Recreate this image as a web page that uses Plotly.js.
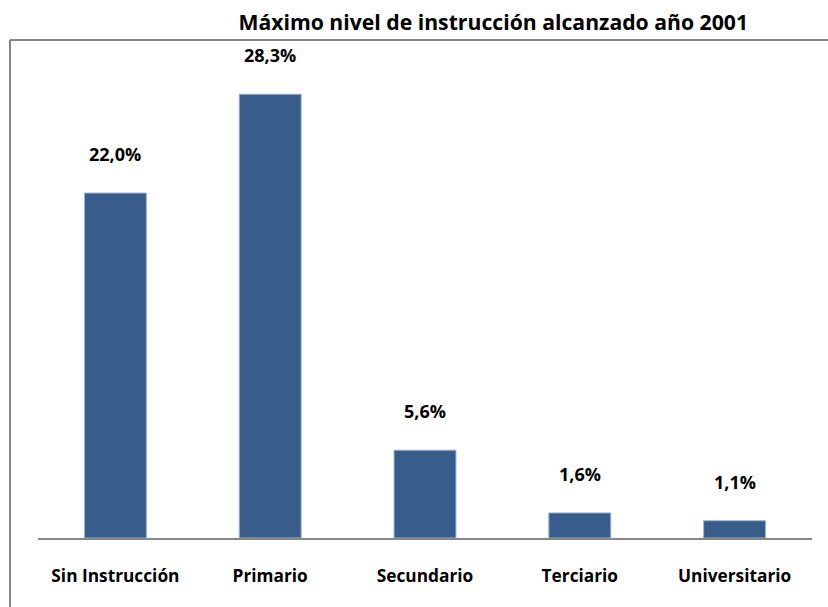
<!DOCTYPE html>
<html>
<head>
<meta charset="utf-8">
<script src="https://cdn.plot.ly/plotly-3.0.1.min.js"></script>
<style>html,body{margin:0;padding:0;background:#fff;}#chart{width:828px;height:607px;}</style>
</head>
<body>
<div id="chart"></div>
<script>
const categories = ["Sin Instrucción", "Primario", "Secundario", "Terciario", "Universitario"];
const values = [22.0, 28.3, 5.6, 1.6, 1.1];
const valueLabels = ["22,0%", "28,3%", "5,6%", "1,6%", "1,1%"];
const chartTitle = "Máximo nivel de instrucción alcanzado año 2001";

const FONT = "'Open Sans', sans-serif";

const trace = {
  type: "bar",
  x: categories,
  y: values,
  marker: {color: "#385D8A", line: {color: "#95B3D7", width: 1}},
  hoverinfo: "skip"
};

const annotations = categories.map((c, i) => ({
  x: c, y: values[i], xref: "x", yref: "y",
  text: "<b>" + valueLabels[i] + "</b>",
  showarrow: false, yanchor: "middle", yshift: 39,
  font: {family: FONT, size: 18, color: "#000"}
}));

const layout = {
  width: 828, height: 607,
  margin: {l: 38, r: 16, t: 40, b: 69},
  paper_bgcolor: "#fff", plot_bgcolor: "#fff",
  showlegend: false,
  bargap: 0.6,
  title: {
    text: "<b>" + chartTitle + "</b>",
    x: 487/828, xanchor: "center", xref: "paper",
    y: 1 - 23/607, yanchor: "middle", yref: "container",
    font: {family: FONT, size: 21.2, color: "#000"}
  },
  xaxis: {
    type: "category",
    showline: true, linecolor: "#878787", linewidth: 2,
    showgrid: false, zeroline: false,
    ticks: "", ticklabelstandoff: 21,
    tickfont: {family: FONT, size: 17.3, color: "#000"},
    tickprefix: "<b>", ticksuffix: "</b>"
  },
  yaxis: {
    range: [0, 31.76], visible: false, showgrid: false, zeroline: false, fixedrange: true
  },
  annotations: annotations,
  shapes: [
    {type: "line", xref: "paper", yref: "paper", x0: (10-38)/774, x1: (828-38)/774, y0: 1, y1: 1, line: {color: "#878787", width: 2}},
    {type: "line", xref: "paper", yref: "paper", x0: (10-38)/774, x1: (10-38)/774, y0: 1, y1: -69/498, line: {color: "#878787", width: 2}}
  ]
};

Plotly.newPlot("chart", [trace], layout, {displayModeBar: false, staticPlot: true});
</script>
</body>
</html>
